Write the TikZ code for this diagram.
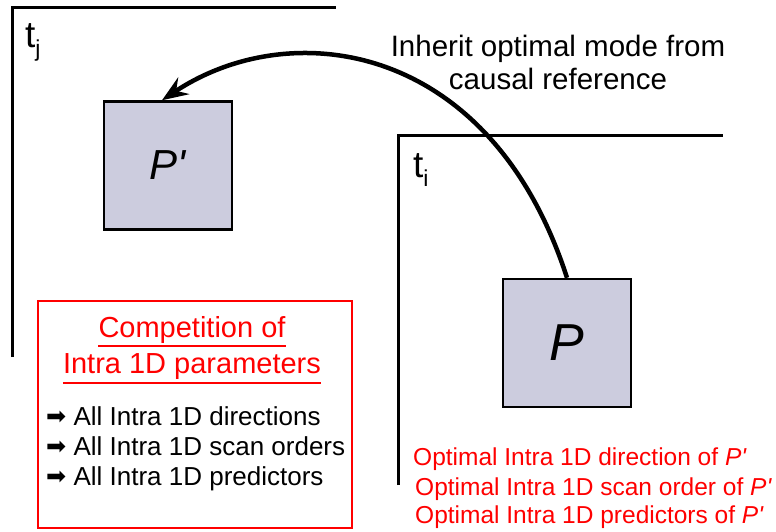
\documentclass[tikz,border=0pt]{standalone}
\usepackage{fontspec}
\setmainfont{Liberation Sans}
\newfontfamily\symfont{DejaVu Sans}
\usetikzlibrary{arrows.meta}
\definecolor{blockfill}{RGB}{204,204,222}
\newcommand{\arrbullet}{\raisebox{1pt}{\symfont\fontsize{24}{24}\selectfont ➡}}
\newcommand{\tsub}[1]{t\raisebox{-9pt}{\fontsize{23}{24}\selectfont #1}}
\newcommand{\pprm}{\textit{P\textquotesingle}}

\begin{document}
\begin{tikzpicture}[x=1pt, y=-1pt, >={Stealth[length=26pt, width=20pt, inset=9pt]},
	frame/.style={line width=3pt},
	block/.style={draw, line width=2.5pt, fill=blockfill, minimum width=128pt, minimum height=128pt, inner sep=0pt},
	lbl/.style={anchor=base west, inner sep=0pt, font=\fontsize{37}{40}\selectfont},
	heading/.style={anchor=base, inner sep=0pt, text=red, font=\fontsize{29}{32}\selectfont},
	item/.style={anchor=base west, inner sep=0pt, font=\fontsize{26}{28}\selectfont},
	optimal/.style={anchor=base west, inner sep=0pt, text=red, font=\fontsize{24.5}{28}\selectfont}]
	\useasboundingbox (0,0) rectangle (776,532);

	% reference frame t_j and its block
	\draw[frame] (12,357) -- (12,8) -- (336,8);
	\node[lbl] (tj) at (25,48) {\tsub{j}};
	\node[block] (pprime) at (168,165.5) {\fontsize{42}{44}\selectfont\pprm};

	% current frame t_i and its block
	\draw[frame] (398,485) -- (398,136) -- (723,136);
	\node[lbl] (ti) at (413,177) {\tsub{i}};
	\node[block] (p) at (567,343) {\fontsize{52}{54}\selectfont\itshape P};

	% inheritance arrow
	\node[align=center, inner sep=0pt, font=\fontsize{29.5}{33}\selectfont] (inherit) at (558,62)
		{Inherit optimal mode from\\causal reference};
	\draw[->, line width=4.5pt] (p.north) .. controls (490,40) and (290,15) .. ([xshift=-6pt]pprime.north);

	% competition box
	\node[draw=red, line width=2pt, minimum width=314pt, minimum height=227pt, inner sep=0pt] (comp) at (195,414.5) {};
	\node[heading] (comp1) at (192,337) {Competition of};
	\node[heading] (comp2) at (192,373) {Intra 1D parameters};
	\draw[red, line width=2pt] ([yshift=-9pt]comp1.base west) -- ([yshift=-9pt]comp1.base east);
	\draw[red, line width=2pt] ([yshift=-10pt]comp2.base west) -- ([yshift=-10pt]comp2.base east);
	\node[item] (all1) at (46,425) {\arrbullet\ All Intra 1D directions};
	\node[item] (all2) at (46,455) {\arrbullet\ All Intra 1D scan orders};
	\node[item] (all3) at (46,485) {\arrbullet\ All Intra 1D predictors};

	% inherited parameters
	\node[optimal] (opt1) at (413,465) {Optimal Intra 1D direction of \pprm};
	\node[optimal] (opt2) at (415,495) {Optimal Intra 1D scan order of \pprm};
	\node[optimal] (opt3) at (415,523) {Optimal Intra 1D predictors of \pprm};
\end{tikzpicture}
\end{document}
